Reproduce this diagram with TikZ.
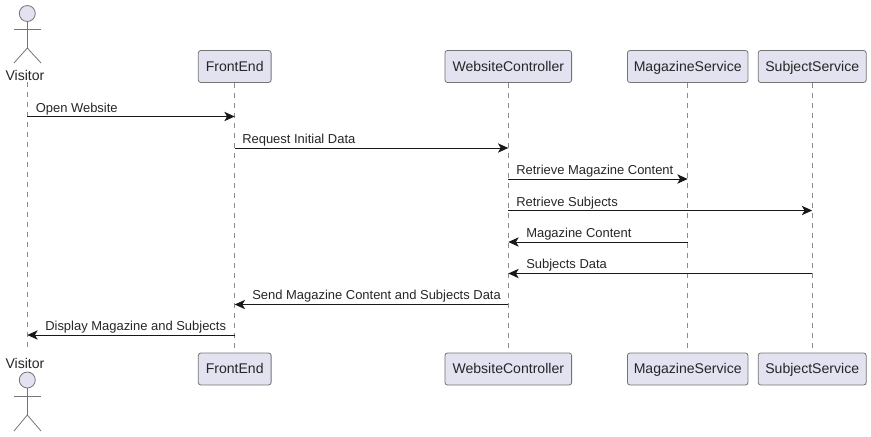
\documentclass[tikz,border=0pt]{standalone}
\usepackage{fontspec}
\setmainfont{Liberation Sans}
\usetikzlibrary{arrows.meta}
\definecolor{pfill}{HTML}{E2E2F0}
\definecolor{pline}{HTML}{181818}
\tikzset{
  x=0.75pt,y=-0.75pt,
  part/.style={draw=pline!60,line width=0.6pt,fill=pfill,rounded corners=1.9pt,inner sep=0pt,minimum height=24pt,text height=8.2pt,text depth=1.2pt,font=\fontsize{10.55pt}{12pt}\selectfont,text=black!85},
  head/.style={circle,draw=pline!60,line width=0.6pt,fill=pfill,inner sep=0pt,minimum size=12pt},
  limb/.style={draw=pline!60,line width=0.6pt},
  aname/.style={inner sep=0pt,font=\fontsize{10.55pt}{12pt}\selectfont,text=black!85},
  life/.style={draw=pline!50,line width=0.5pt,dash pattern=on 3.75pt off 3.75pt},
  msg/.style={draw=pline,line width=0.75pt,-{Stealth[length=7.8pt,width=7pt,inset=2.1pt]}},
  mlabel/.style={anchor=base west,inner sep=0pt,font=\fontsize{9.72pt}{12pt}\selectfont,text=black!85}
}
\begin{document}
\begin{tikzpicture}
\useasboundingbox (0,0) rectangle (871,436);
% actor names and the ends of the actor's lifeline
\node[aname] (vT) at (25,75.5) {Visitor};
\node[aname] (vB) at (25,363.5) {Visitor};
\coordinate (vTop) at (27.3,82);
\coordinate (vBot) at (27.3,352);
% participants
\node[part,minimum width=54.6pt] (feT) at (234.7,66.5) {FrontEnd};
\node[part,minimum width=95pt] (wcT) at (508.3,66.5) {WebsiteController};
\node[part,minimum width=90.4pt] (msT) at (687.7,66.5) {MagazineService};
\node[part,minimum width=81pt] (ssT) at (812.2,66.5) {SubjectService};
\node[part,minimum width=54.6pt] (feB) at (234.7,369) {FrontEnd};
\node[part,minimum width=95pt] (wcB) at (508.3,369) {WebsiteController};
\node[part,minimum width=90.4pt] (msB) at (687.7,369) {MagazineService};
\node[part,minimum width=81pt] (ssB) at (812.2,369) {SubjectService};
% lifelines
\draw[life] (vTop) -- (vBot);
\draw[life] (feT.south) -- (feB.north);
\draw[life] (wcT.south) -- (wcB.north);
\draw[life] (msT.south) -- (msB.north);
\draw[life] (ssT.south) -- (ssB.north);
% top actor
\node[head] (hT) at (27.3,13.5) {};
\coordinate (hipT) at (27.3,48);
\draw[limb] (hT.south) -- (hipT);
\coordinate (aLT) at (14,29); \coordinate (aRT) at (41,29);
\draw[limb] (aLT) -- (aRT);
\coordinate (lLT) at (14,63); \coordinate (lRT) at (41,63);
\draw[limb] (lLT) -- (hipT) -- (lRT);
% bottom actor
\node[head] (hB) at (27.3,380) {};
\coordinate (hipB) at (27.3,415);
\draw[limb] (hB.south) -- (hipB);
\coordinate (aLB) at (14,396); \coordinate (aRB) at (41,396);
\draw[limb] (aLB) -- (aRB);
\coordinate (lLB) at (14,431); \coordinate (lRB) at (41,431);
\draw[limb] (lLB) -- (hipB) -- (lRB);
% message rows
\coordinate (r1) at (0,116.5);
\coordinate (r2) at (0,148);
\coordinate (r3) at (0,179);
\coordinate (r4) at (0,210.5);
\coordinate (r5) at (0,242);
\coordinate (r6) at (0,273.5);
\coordinate (r7) at (0,304.5);
\coordinate (r8) at (0,335);
\draw[msg] (vTop |- r1) -- (feT.south |- r1);
\draw[msg] (feT.south |- r2) -- (wcT.south |- r2);
\draw[msg] (wcT.south |- r3) -- (msT.south |- r3);
\draw[msg] (wcT.south |- r4) -- (ssT.south |- r4);
\draw[msg] (msT.south |- r5) -- (wcT.south |- r5);
\draw[msg] (ssT.south |- r6) -- (wcT.south |- r6);
\draw[msg] (wcT.south |- r7) -- (feT.south |- r7);
\draw[msg] (feT.south |- r8) -- (vTop |- r8);
% message labels
\node[mlabel] (t1) at (35.5,112) {Open Website};
\node[mlabel] (t2) at (242,143.5) {Request Initial Data};
\node[mlabel] (t3) at (516,174.5) {Retrieve Magazine Content};
\node[mlabel] (t4) at (516,206) {Retrieve Subjects};
\node[mlabel] (t5) at (526,237.5) {Magazine Content};
\node[mlabel] (t6) at (526,268.5) {Subjects Data};
\node[mlabel] (t7) at (252,299.5) {Send Magazine Content and Subjects Data};
\node[mlabel] (t8) at (45,330.5) {Display Magazine and Subjects};
\end{tikzpicture}
\end{document}
